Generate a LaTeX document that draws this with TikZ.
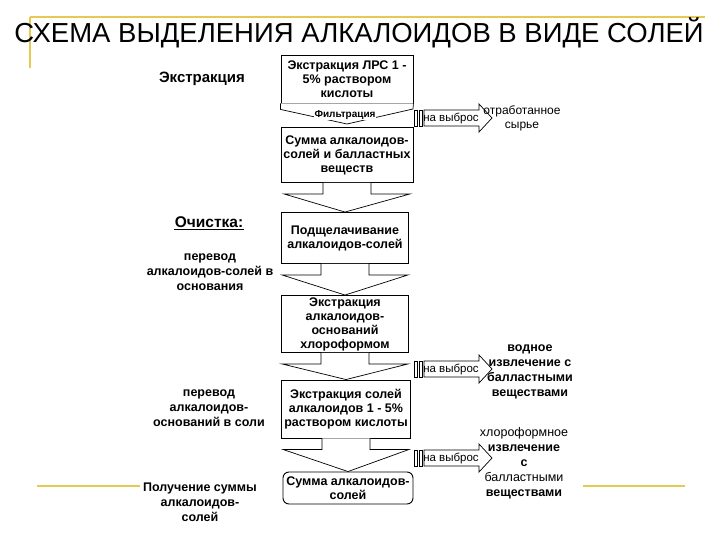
\documentclass[tikz,border=0pt]{standalone}
\usepackage{fontspec}
\setmainfont{Liberation Sans}
\usetikzlibrary{calc}
\begin{document}
\begin{tikzpicture}[x=1pt,y=-1pt,
  bx/.style={draw,line width=0.9pt,font=\bfseries\fontsize{12.5}{14}\selectfont,align=center,inner sep=1pt},
  lbl/.style={font=\bfseries\fontsize{12.5}{15}\selectfont,align=center,inner sep=1pt},
  bar/.style={draw,line width=0.6pt},
  gold/.style={draw=yellow!50!brown!85,line width=1.5pt}]
\useasboundingbox (0,0) rectangle (720,540);
\draw[gold] (30,17) -- (705,17);
\draw[gold] (30,17) -- (30,68);
\draw[gold] (37,486) -- (140,486);
\draw[gold] (583,486) -- (685,486);
\node[font=\fontsize{27.5}{30}\selectfont,inner sep=0] (title) at (359,33) {СХЕМА ВЫДЕЛЕНИЯ АЛКАЛОИДОВ В ВИДЕ СОЛЕЙ};
% boxes
\node[bx,minimum width=132,minimum height=48] (b1) at (347,79) {Экстракция ЛРС 1 -\\5\% раствором\\кислоты};
\node[bx,minimum width=132,minimum height=55] (b2) at (347,155) {Сумма алкалоидов-\\солей и балластных\\веществ};
\node[bx,minimum width=127,minimum height=51] (b3) at (345,238) {Подщелачивание\\алкалоидов-солей};
\node[bx,minimum width=127,minimum height=57] (b4) at (345,324) {Экстракция\\алкалоидов-\\оснований\\хлороформом};
\node[bx,minimum width=129,minimum height=58] (b5) at (346,409) {Экстракция солей\\алкалоидов 1 - 5\%\\раствором кислоты};
\node[bx,rounded corners=6pt,minimum width=130,minimum height=32] (b6) at (348,488) {Сумма алкалоидов-\\солей};
% filtration chevron
\draw[line width=0.7pt,fill=white] (b1.south west) -- ++(0,6) -- (347,124) -- (413,109) -- (b1.south east);
\node[font=\bfseries\fontsize{10}{11}\selectfont,fill=white,inner sep=0.5pt] (filt) at (345,115) {Фильтрация};
% block arrows down
\foreach \a/\b in {b2/b3,b3/b4,b4/b5,b5/b6}{
  \path (\a.south) coordinate (s) (\b.north) coordinate (t);
  \draw[line width=0.7pt,fill=white] ($(s)+(-24,0)$) -- ($(s)+(-24,11)$) -- ($(s)+(-63,11)$) -- (t) -- ($(s)+(63,11)$) -- ($(s)+(24,11)$) -- ($(s)+(24,0)$);
}
% side arrows
\foreach \y/\n in {118/r1,369/r2,458/r3}{
  \draw[bar] (414,\y-8) rectangle (417,\y+8);
  \draw[bar] (419,\y-8) rectangle (422,\y+8);
  \draw[line width=0.7pt,fill=white] (424,\y-8) -- (479,\y-8) -- (479,\y-14) -- (492,\y) -- (479,\y+14) -- (479,\y+8) -- (424,\y+8) -- cycle;
  \node[font=\fontsize{11.5}{13}\selectfont,inner sep=0] (\n) at (451,\y) {на выброс};
}
\node[font=\fontsize{12}{14}\selectfont,align=center] (o1) at (522,118) {отработанное\\сырье};
\node[lbl] (o2) at (530,372) {водное\\извлечение с\\балластными\\веществами};
\node[lbl] (o3) at (524,463) {\mdseries хлороформное\\извлечение\\с\\\mdseries балластными\\веществами};
% left labels
\node[lbl,font=\bfseries\fontsize{15}{17}\selectfont] (l1) at (202,79) {Экстракция};
\node[lbl,font=\bfseries\fontsize{15.5}{17}\selectfont] (l2) at (209,222) {Очистка:};
\draw[line width=0.8pt] ([yshift=-1pt]l2.south west) -- ([yshift=-1pt]l2.south east);
\node[lbl] (l3) at (210,272) {перевод\\алкалоидов-солей в\\основания};
\node[lbl] (l4) at (209,408) {перевод\\алкалоидов-\\оснований в соли};
\node[lbl] (l5) at (200,502) {Получение суммы\\алкалоидов-\\солей};
\end{tikzpicture}
\end{document}
